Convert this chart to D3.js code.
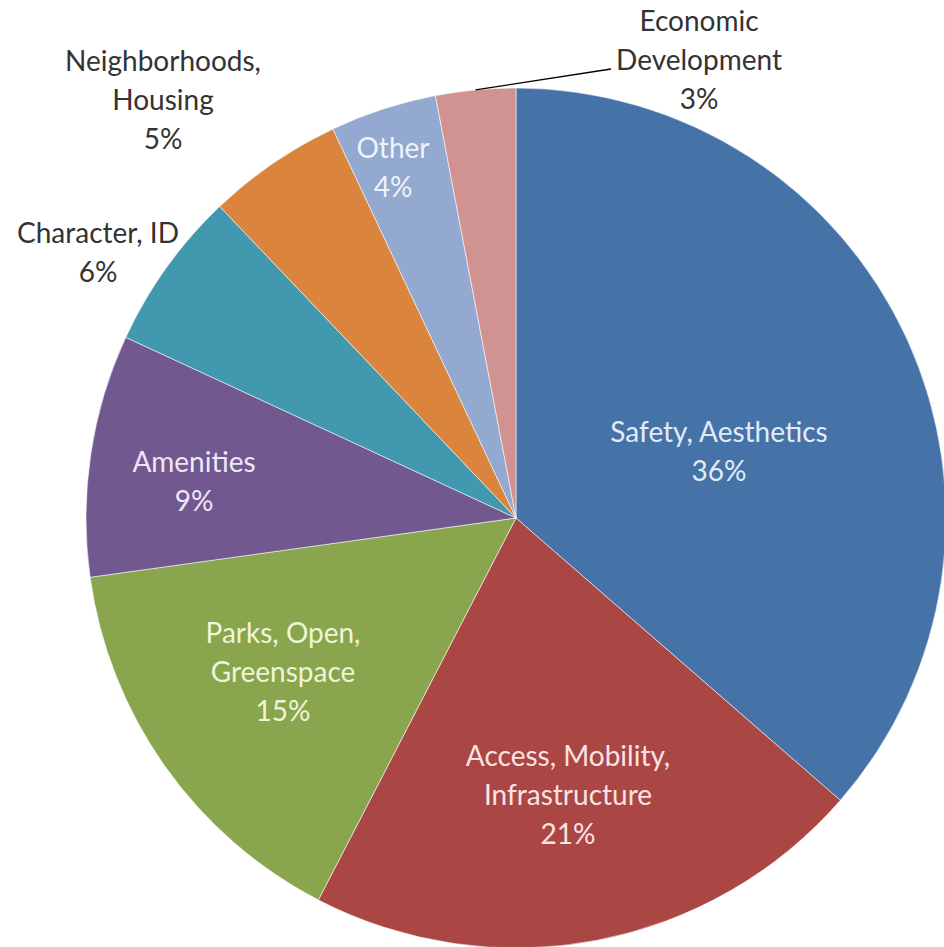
<!DOCTYPE html>
<html>
<head>
<meta charset="utf-8">
<script src="https://cdn.jsdelivr.net/npm/d3@7"></script>
<style>
  html, body { margin: 0; padding: 0; background: #ffffff; }
  svg { display: block; }
</style>
</head>
<body>
<svg id="chart" width="944" height="947"></svg>
<script>
// ---- data ----
const categories = [
  ["Safety, Aesthetics"],
  ["Access, Mobility,", "Infrastructure"],
  ["Parks, Open,", "Greenspace"],
  ["Amenities"],
  ["Character, ID"],
  ["Neighborhoods,", "Housing"],
  ["Other"],
  ["Economic", "Development"]
];
const shares = [36.4, 21.2, 15.2, 9.1, 6.0, 5.1, 4.0, 3.0];

// ---- styles ----
const sliceColors = ["#4572A7", "#AA4643", "#89A54E", "#71588F", "#4198AF", "#DB843D", "#93A9CF", "#D19392"];
const labelColors = ["#e2ecf8", "#fbe3e3", "#eef6d6", "#efe6f7", "#333333", "#333333", "#eef3fb", "#333333"];
// label block centres, relative to pie centre (layout only)
const labelOffsets = [
  [203, -66], [52, 277], [-233, 154], [-322, -36],
  [-418, -265], [-353, -418], [-123, -350], [183, -458]
];

const cx = 516, cy = 518, radius = 430, lineH = 39;

const svg = d3.select("#chart");
const g = svg.append("g").attr("transform", `translate(${cx},${cy})`);

const pie = d3.pie().sort(null).value(d => d);
const arcs = pie(shares);
const arc = d3.arc().innerRadius(0).outerRadius(radius);

g.selectAll("path.slice")
  .data(arcs)
  .join("path")
  .attr("class", "slice")
  .attr("d", arc)
  .attr("fill", (d, i) => sliceColors[i])
  .attr("stroke", "rgba(255,255,255,0.55)")
  .attr("stroke-width", 1);

// leader line for the small "Economic Development" slice
const econ = arcs[7];
const econMid = (econ.startAngle + econ.endAngle) / 2;
const edgePt = [Math.sin(econMid) * radius, -Math.cos(econMid) * radius];
const lo = labelOffsets[7];
g.append("polyline")
  .attr("points", [edgePt, [lo[0] - 88, lo[1] + 9]].map(p => p.join(",")).join(" "))
  .attr("fill", "none")
  .attr("stroke", "#000")
  .attr("stroke-width", 1.3);

// labels
arcs.forEach((a, i) => {
  const lines = categories[i].concat([Math.round(shares[i]) + "%"]);
  const [ox, oy] = labelOffsets[i];
  const t = g.append("text")
    .attr("text-anchor", "middle")
    .attr("font-family", "Lato, 'Open Sans', sans-serif")
    .attr("font-size", 28)
    .attr("fill", labelColors[i]);
  const top = oy - (lines.length - 1) * lineH / 2;
  lines.forEach((ln, k) => {
    t.append("tspan")
      .attr("x", ox)
      .attr("y", top + k * lineH)
      .attr("dy", "0.35em")
      .text(ln);
  });
});
</script>
</body>
</html>
